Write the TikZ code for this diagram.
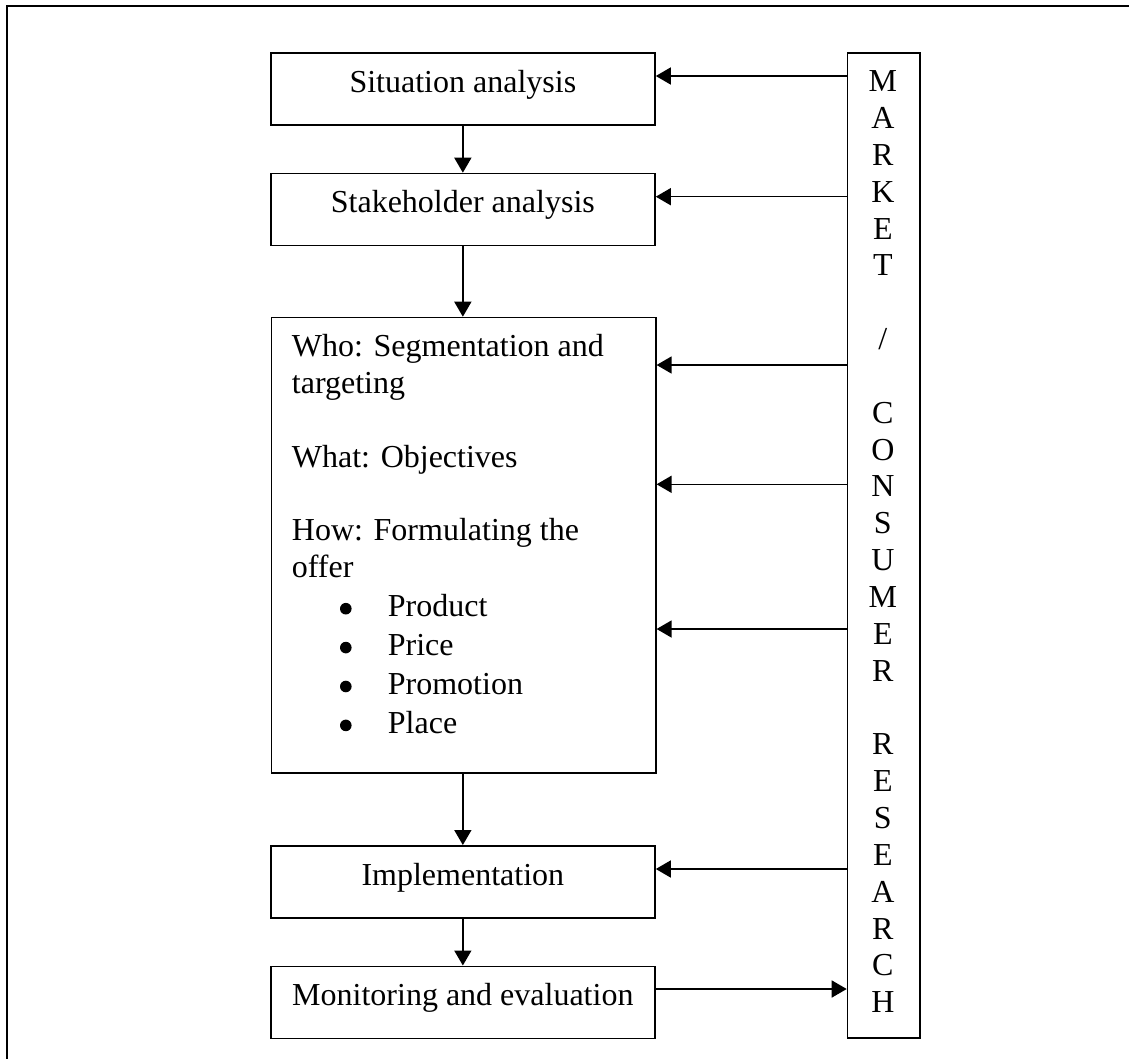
\documentclass[tikz,border=0pt]{standalone}
\usepackage{fontspec}
\setmainfont{Liberation Serif}
\usetikzlibrary{arrows.meta}
\begin{document}
\begin{tikzpicture}[x=1pt,y=-1pt,
  every node/.style={font=\fontsize{32}{36.84}\selectfont},
  stage/.style={draw, line width=1.6pt, inner sep=0pt, minimum width=384.3pt,
                text height=39.3pt, text depth=32.7pt, anchor=north},
  panel/.style={draw, line width=1.6pt, inner sep=0pt, anchor=north west},
  arr/.style={line width=1.6pt, -{Triangle[length=15pt,width=17pt]}},
  txtline/.style={anchor=base west, inner sep=0pt},
  dot/.style={circle, fill, inner sep=0pt, minimum size=11.6pt},
  letter/.style={anchor=base, inner sep=0pt},
  frame/.style={line width=2pt}]
\useasboundingbox (0,0) rectangle (1129,1059);

% page frame (top and left edges)
\draw[frame] (6.7,1080) -- (6.7,6) -- (1150,6);

% planning stages
\node[stage] (sit)   at (462.85,52)    {Situation analysis};
\node[stage] (stake) at (462.85,172.7) {Stakeholder analysis};
\node[panel, minimum width=384.3pt, minimum height=455.6pt] (plan) at (270.7,316.7) {};
\node[stage] (impl)  at (462.85,845)   {Implementation};
\node[stage] (mon)   at (462.85,965.5) {Monitoring and evaluation};

% contents of the planning box
\node[txtline] (who)  at (291.7,356.7) {Who: Segmentation and};
\node[txtline] (tgt)  at (291.7,393.5) {targeting};
\node[txtline] (what) at (291.7,467.2) {What: Objectives};
\node[txtline] (how)  at (291.7,540.9) {How: Formulating the};
\node[txtline] (off)  at (291.7,577.7) {offer};
\foreach \w [count=\i from 0] in {Product,Price,Promotion,Place}{
  \node[dot] (d\i) at (345.8,{616.7+\i*38.9-8}) {};
  \node[txtline] (p\i) at (387.7,{616.7+\i*38.9}) {\w};
}

% market / consumer research column
\node[panel, minimum width=72.3pt, minimum height=985pt] (mr) at (846.7,52) {};
\foreach \c [count=\i from 0] in {M,A,R,K,E,T}
  \node[letter] (mkt\i) at (882.85,{91.7+\i*36.84}) {\c};
\node[letter] (slash) at (882.85,{91.7+7*36.84}) {/};
\foreach \c [count=\i from 9] in {C,O,N,S,U,M,E,R}
  \node[letter] (con\i) at (882.85,{91.7+\i*36.84}) {\c};
\foreach \c [count=\i from 18] in {R,E,S,E,A,R,C,H}
  \node[letter] (res\i) at (882.85,{91.7+\i*36.84}) {\c};

% flow down the stages
\draw[arr] (sit.south)   -- (stake.north);
\draw[arr] (stake.south) -- (plan.north -| stake.south);
\draw[arr] (plan.south -| impl.north) -- (impl.north);
\draw[arr] (impl.south)  -- (mon.north);

% research inputs
\path ([yshift=-24pt]sit.north east)     coordinate (in1)
      ([yshift=-24pt]stake.north east)   coordinate (in2)
      ([yshift=-48.3pt]plan.north east)  coordinate (in3)
      ([yshift=-167.6pt]plan.north east) coordinate (in4)
      ([yshift=-312.3pt]plan.north east) coordinate (in5)
      ([yshift=-24pt]impl.north east)    coordinate (in6)
      ([yshift=-23.5pt]mon.north east)   coordinate (out1);
\foreach \k in {in1,in2,in3,in4,in5,in6}
  \draw[arr] (mr.west |- \k) -- (\k);
\draw[arr] (out1) -- (mr.west |- out1);
\end{tikzpicture}
\end{document}
